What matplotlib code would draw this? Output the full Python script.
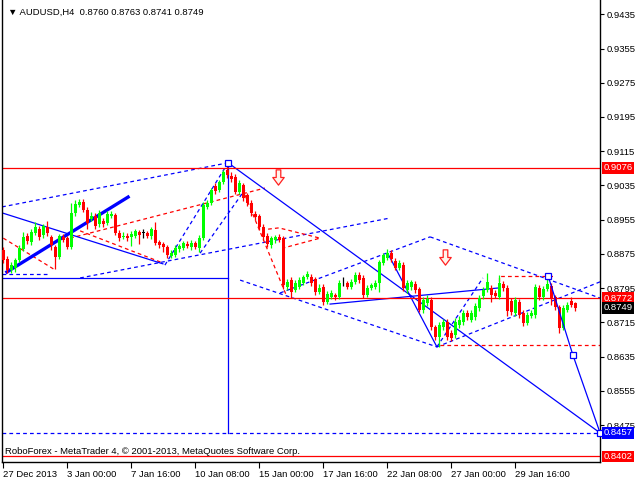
import numpy as np
import matplotlib.pyplot as plt
import matplotlib.transforms as mtransforms
from matplotlib.path import Path

plt.rcParams['font.family'] = ['Liberation Sans', 'DejaVu Sans']

# AUDUSD H4 candles
opens = [0.8884, 0.8863, 0.8838, 0.8842, 0.8861, 0.8887, 0.8917, 0.8903, 0.8924, 0.8933,
         0.8919, 0.8938, 0.8915, 0.8891, 0.8868, 0.8915, 0.8912, 0.8891, 0.8971, 0.8989,
         0.8996, 0.8978, 0.8957, 0.8964, 0.8945, 0.8952, 0.8947, 0.8964, 0.8966, 0.8924,
         0.8915, 0.8917, 0.8915, 0.8917, 0.8926, 0.8924, 0.8924, 0.8917, 0.8931, 0.8903,
         0.8898, 0.8891, 0.8870, 0.8873, 0.8887, 0.8889, 0.8898, 0.8891, 0.8901, 0.8889,
         0.8912, 0.8985, 0.8994, 0.9034, 0.9025, 0.9043, 0.9071, 0.9057, 0.9055, 0.9020,
         0.9036, 0.9013, 0.8994, 0.8968, 0.8964, 0.8938, 0.8917, 0.8896, 0.8908, 0.8915,
         0.8912, 0.8798, 0.8814, 0.8791, 0.8798, 0.8807, 0.8821, 0.8821, 0.8817, 0.8786,
         0.8798, 0.8763, 0.8775, 0.8779, 0.8775, 0.8807, 0.8807, 0.8798, 0.8810, 0.8826,
         0.8819, 0.8779, 0.8796, 0.8798, 0.8807, 0.8854, 0.8866, 0.8877, 0.8859, 0.8842,
         0.8849, 0.8791, 0.8798, 0.8805, 0.8793, 0.8744, 0.8761, 0.8768, 0.8705, 0.8681,
         0.8705, 0.8716, 0.8691, 0.8686, 0.8709, 0.8716, 0.8737, 0.8721, 0.8728, 0.8749,
         0.8777, 0.8791, 0.8796, 0.8784, 0.8775, 0.8805, 0.8796, 0.8765, 0.8737, 0.8763,
         0.8737, 0.8714, 0.8730, 0.8733, 0.8796, 0.8775, 0.8793, 0.8800, 0.8775, 0.8751,
         0.8702, 0.8744, 0.8765, 0.8760]
highs = [0.8891, 0.8870, 0.8856, 0.8866, 0.8896, 0.8926, 0.8924, 0.8933, 0.8950, 0.8940,
         0.8945, 0.8952, 0.8919, 0.8896, 0.8922, 0.8922, 0.8917, 0.8994, 0.9001, 0.9004,
         0.9004, 0.8985, 0.8973, 0.8971, 0.8978, 0.8959, 0.8975, 0.8975, 0.8971, 0.8931,
         0.8926, 0.8924, 0.8929, 0.8933, 0.8931, 0.8933, 0.8929, 0.8938, 0.8950, 0.8908,
         0.8903, 0.8896, 0.8884, 0.8896, 0.8898, 0.8905, 0.8905, 0.8908, 0.8905, 0.8919,
         0.8996, 0.9001, 0.9029, 0.9041, 0.9048, 0.9071, 0.9090, 0.9067, 0.9062, 0.9048,
         0.9041, 0.9018, 0.9001, 0.8975, 0.8968, 0.8945, 0.8924, 0.8917, 0.8919, 0.8922,
         0.8917, 0.8817, 0.8821, 0.8814, 0.8821, 0.8826, 0.8835, 0.8828, 0.8821, 0.8805,
         0.8805, 0.8789, 0.8791, 0.8784, 0.8814, 0.8821, 0.8812, 0.8817, 0.8833, 0.8833,
         0.8826, 0.8803, 0.8807, 0.8814, 0.8861, 0.8877, 0.8887, 0.8884, 0.8866, 0.8861,
         0.8856, 0.8814, 0.8814, 0.8812, 0.8798, 0.8775, 0.8779, 0.8775, 0.8709, 0.8716,
         0.8723, 0.8723, 0.8698, 0.8726, 0.8730, 0.8744, 0.8744, 0.8744, 0.8761, 0.8779,
         0.8798, 0.8831, 0.8803, 0.8791, 0.8826, 0.8812, 0.8803, 0.8772, 0.8775, 0.8770,
         0.8744, 0.8740, 0.8744, 0.8805, 0.8803, 0.8800, 0.8826, 0.8807, 0.8779, 0.8756,
         0.8756, 0.8763, 0.8775, 0.8763]
lows = [0.8854, 0.8831, 0.8831, 0.8833, 0.8856, 0.8882, 0.8898, 0.8896, 0.8919, 0.8908,
        0.8912, 0.8917, 0.8884, 0.8840, 0.8863, 0.8903, 0.8887, 0.8887, 0.8964, 0.8985,
        0.8973, 0.8933, 0.8952, 0.8933, 0.8938, 0.8938, 0.8943, 0.8959, 0.8919, 0.8905,
        0.8910, 0.8905, 0.8894, 0.8912, 0.8898, 0.8912, 0.8912, 0.8910, 0.8896, 0.8889,
        0.8880, 0.8866, 0.8866, 0.8868, 0.8880, 0.8884, 0.8889, 0.8884, 0.8887, 0.8880,
        0.8908, 0.8980, 0.8989, 0.9015, 0.9020, 0.9039, 0.9053, 0.9043, 0.9015, 0.9015,
        0.8999, 0.8987, 0.8964, 0.8954, 0.8931, 0.8908, 0.8891, 0.8889, 0.8901, 0.8903,
        0.8793, 0.8791, 0.8772, 0.8786, 0.8793, 0.8803, 0.8817, 0.8800, 0.8779, 0.8782,
        0.8756, 0.8758, 0.8770, 0.8768, 0.8770, 0.8800, 0.8793, 0.8793, 0.8805, 0.8807,
        0.8772, 0.8775, 0.8791, 0.8793, 0.8786, 0.8849, 0.8861, 0.8856, 0.8838, 0.8838,
        0.8789, 0.8784, 0.8791, 0.8784, 0.8740, 0.8737, 0.8754, 0.8698, 0.8674, 0.8658,
        0.8698, 0.8674, 0.8672, 0.8679, 0.8702, 0.8709, 0.8721, 0.8716, 0.8721, 0.8742,
        0.8770, 0.8786, 0.8763, 0.8772, 0.8770, 0.8789, 0.8730, 0.8733, 0.8730, 0.8726,
        0.8707, 0.8709, 0.8726, 0.8726, 0.8768, 0.8768, 0.8789, 0.8756, 0.8744, 0.8691,
        0.8698, 0.8740, 0.8751, 0.8741]
closes = [0.8861, 0.8838, 0.8849, 0.8861, 0.8889, 0.8915, 0.8905, 0.8926, 0.8938, 0.8915,
          0.8940, 0.8924, 0.8896, 0.8868, 0.8917, 0.8908, 0.8891, 0.8971, 0.8992, 0.8996,
          0.8978, 0.8947, 0.8964, 0.8940, 0.8971, 0.8945, 0.8968, 0.8968, 0.8924, 0.8912,
          0.8917, 0.8912, 0.8922, 0.8929, 0.8919, 0.8924, 0.8917, 0.8933, 0.8901, 0.8896,
          0.8891, 0.8873, 0.8877, 0.8889, 0.8894, 0.8901, 0.8894, 0.8901, 0.8891, 0.8912,
          0.8989, 0.8994, 0.9025, 0.9022, 0.9043, 0.9067, 0.9060, 0.9050, 0.9020, 0.9041,
          0.9006, 0.8994, 0.8971, 0.8961, 0.8938, 0.8915, 0.8898, 0.8912, 0.8915, 0.8908,
          0.8803, 0.8810, 0.8786, 0.8807, 0.8814, 0.8821, 0.8828, 0.8807, 0.8786, 0.8796,
          0.8763, 0.8782, 0.8784, 0.8775, 0.8807, 0.8807, 0.8798, 0.8810, 0.8826, 0.8814,
          0.8779, 0.8796, 0.8803, 0.8807, 0.8856, 0.8873, 0.8877, 0.8863, 0.8842, 0.8854,
          0.8796, 0.8807, 0.8810, 0.8791, 0.8744, 0.8768, 0.8770, 0.8705, 0.8681, 0.8709,
          0.8716, 0.8681, 0.8679, 0.8716, 0.8721, 0.8737, 0.8728, 0.8737, 0.8754, 0.8772,
          0.8791, 0.8810, 0.8779, 0.8777, 0.8807, 0.8796, 0.8742, 0.8740, 0.8768, 0.8733,
          0.8714, 0.8733, 0.8737, 0.8798, 0.8775, 0.8793, 0.8805, 0.8770, 0.8751, 0.8702,
          0.8749, 0.8756, 0.8756, 0.8749]

x_tick_bars = [0, 16, 32, 48, 64, 80, 96, 112, 128]
x_tick_labels = ['27 Dec 2013', '3 Jan 00:00', '7 Jan 16:00', '10 Jan 08:00', '15 Jan 00:00',
                 '17 Jan 16:00', '22 Jan 08:00', '27 Jan 00:00', '29 Jan 16:00']
y_ticks = [0.9435, 0.9355, 0.9275, 0.9195, 0.9115, 0.9035, 0.8955, 0.8875,
           0.8795, 0.8715, 0.8635, 0.8555, 0.8475]

red_levels = [0.9076, 0.8772, 0.8402]
target_level = 0.8457
bid_price = 0.8749
peak_bar, peak_price = 56.2, 0.9088

# analysis objects as (bar, price) polylines
blue_solid = [
    [(-0.3, 0.8971), (39.9, 0.8852)],
    [(56.2, 0.9088), (149.2, 0.8457)],
    [(-0.3, 0.8819), (56.2, 0.8819)],
    [(56.2, 0.9088), (56.2, 0.8457)],
    [(81.7, 0.8758), (124.2, 0.8796)],
    [(96.2, 0.8875), (108.4, 0.8658)],
]
blue_thick = [(0.9, 0.8833), (31.2, 0.9008)]
forecast = [(136.2, 0.8824), (142.4, 0.8639), (149.2, 0.8457)]
blue_dashed = [
    [(-0.3, 0.8985), (56.2, 0.9088)],
    [(19.2, 0.8819), (96.7, 0.8959)],
    [(-0.3, 0.8828), (10.9, 0.8828)],
    [(40.4, 0.8849), (56.2, 0.9088)],
    [(49.2, 0.8877), (60.4, 0.9025)],
    [(59.2, 0.8814), (108.4, 0.8658)],
    [(69.2, 0.8784), (106.7, 0.8915)],
    [(106.7, 0.8915), (149.2, 0.8772)],
    [(108.4, 0.8658), (149.2, 0.8810)],
    [(108.4, 0.8658), (119.9, 0.8819)],
]
red_dashed = [
    [(0.0, 0.8912), (12.9, 0.8838)],
    [(16.7, 0.8912), (65.4, 0.9029)],
    [(19.2, 0.8929), (39.9, 0.8854)],
    [(60.4, 0.9013), (70.9, 0.8775)],
    [(66.2, 0.8933), (68.9, 0.8936), (79.2, 0.8912), (70.0, 0.8889)],
    [(109.2, 0.8663), (149.2, 0.8663)],
    [(123.9, 0.8779), (123.9, 0.8824), (137.4, 0.8824)],
]
sell_arrows = [(68.7, 0.9055), (110.4, 0.8868)]

fig = plt.figure(figsize=(6.4, 4.8), dpi=100)
ax = fig.add_axes([2 / 640, 18 / 480, 598 / 640, 462 / 480])
ax.set_xlim(-0.325, 149.175)
ax.set_ylim(0.83891, 0.94683)

dash = (0, (3, 2.5))
for seg in blue_dashed:
    xs, ys = zip(*seg)
    ax.plot(xs, ys, color='#0000ff', lw=0.9, ls=dash, zorder=2)
for seg in red_dashed:
    xs, ys = zip(*seg)
    ax.plot(xs, ys, color='#ff0000', lw=0.9, ls=dash, zorder=2)
for seg in blue_solid:
    xs, ys = zip(*seg)
    ax.plot(xs, ys, color='#0000ff', lw=0.9, zorder=2)
xs, ys = zip(*blue_thick)
ax.plot(xs, ys, color='#0000ff', lw=2.4, zorder=2)
xs, ys = zip(*forecast)
ax.plot(xs, ys, color='#0000ff', lw=0.9, zorder=4, clip_on=False)
ax.plot(list(xs) + [peak_bar], list(ys) + [peak_price], ls='none', marker='s', ms=4.5,
        mfc='white', mec='#0000ff', mew=0.9, zorder=5, clip_on=False)

for lvl in red_levels:
    ax.axhline(lvl, color='#ff0000', lw=0.9, zorder=2)
ax.axhline(target_level, color='#0000ff', lw=0.9, ls=dash, zorder=2)

# candles
o = np.array(opens)
c = np.array(closes)
idx = np.arange(len(o))
cols = np.where(c > o, '#00ff00', np.where(c < o, '#ff0000', '#000000'))
ax.vlines(idx, lows, highs, colors=cols, lw=0.9, zorder=3)
ax.bar(idx, np.maximum(np.abs(c - o), 0.00012), bottom=np.minimum(o, c), width=0.75,
       color=cols, linewidth=0, zorder=3)

# hollow sell arrows
arrow = Path([(-0.3, 1), (0.3, 1), (0.3, 0), (0.75, 0), (0, -1), (-0.75, 0), (-0.3, 0), (-0.3, 1)],
             [Path.MOVETO] + [Path.LINETO] * 6 + [Path.CLOSEPOLY])
ax_x, ax_y = zip(*sell_arrows)
ax.plot(ax_x, ax_y, ls='none', marker=arrow, ms=11, mfc='#fff4ec', mec='#ff2020', mew=0.9, zorder=5)

# axes styling
for s in ['left', 'right', 'bottom']:
    ax.spines[s].set_linewidth(1)
    ax.spines[s].set_color('black')
ax.spines['top'].set_visible(False)
ax.yaxis.tick_right()
ax.set_yticks(y_ticks)
ax.set_yticklabels([f'{v:.4f}' for v in y_ticks])
ax.tick_params(axis='y', length=3, width=0.8, pad=2, labelsize=6.8)
ax.set_xticks(x_tick_bars)
ax.set_xticklabels(x_tick_labels, ha='left')
ax.tick_params(axis='x', length=4, width=0.8, pad=2, labelsize=6.8)

trans = mtransforms.blended_transform_factory(ax.transAxes, ax.transData)
boxes = [(0.9076, '#ff0000'), (0.8772, '#ff0000'), (bid_price, '#000000'),
         (target_level, '#0000ff'), (0.8402, '#ff0000')]
for val, col in boxes:
    ax.text(1.006, val, f'{val:.4f}', transform=trans, ha='left', va='center', fontsize=6.8,
            color='white', bbox=dict(boxstyle='square,pad=0.12', fc=col, ec='none'), zorder=6,
            clip_on=False)

fig.text(8 / 640, 1 - 12 / 480, '\u25bc AUDUSD,H4  0.8760 0.8763 0.8741 0.8749',
         fontsize=6.8, va='center', ha='left')
fig.text(5 / 640, 1 - 452 / 480, 'RoboForex - MetaTrader 4, \u00a9 2001-2013, MetaQuotes Software Corp.',
         fontsize=6.8, va='center', ha='left')

fig.savefig('out.png', dpi=100)
